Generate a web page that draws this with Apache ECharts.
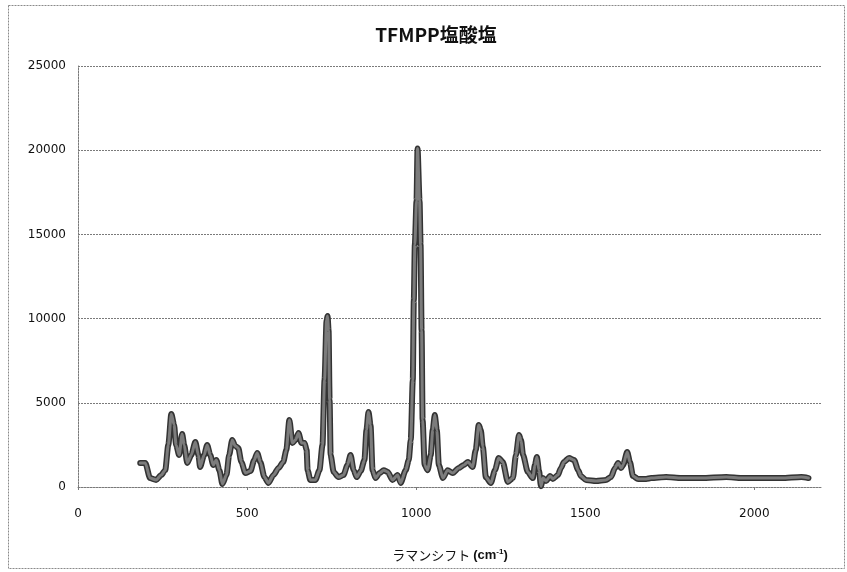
<!DOCTYPE html>
<html>
<head>
<meta charset="utf-8">
<script src="https://cdn.jsdelivr.net/npm/echarts@6/dist/echarts.min.js"></script>
<style>
  html, body { margin: 0; padding: 0; background: #fff; }
  #chart { width: 847px; height: 572px; }
</style>
</head>
<body>
<div id="chart"></div>
<script>
// ラマンシフト (cm-1)
var ramanShift = [184, 199, 213, 231, 246, 258, 267, 276, 284, 290, 299, 308, 314, 323, 335, 347, 356, 361, 373, 382,
    391, 400, 409, 418, 427, 439, 447, 456, 465, 474, 483, 495, 510, 521, 530, 539, 551, 563, 578, 593,
    607, 616, 625, 634, 643, 652, 661, 670, 676, 679, 687, 702, 714, 723, 729, 735, 738, 741, 744, 747,
    756, 770, 785, 797, 806, 815, 824, 836, 847, 853, 859, 865, 871, 880, 892, 904, 916, 930, 945, 954,
    969, 978, 984, 990, 993, 996, 1001, 1004, 1010, 1013, 1016, 1019, 1025, 1034, 1043, 1049, 1055, 1061, 1067, 1079,
    1093, 1108, 1126, 1141, 1153, 1167, 1176, 1185, 1191, 1197, 1206, 1221, 1233, 1244, 1256, 1271, 1286, 1295, 1304, 1310,
    1316, 1330, 1345, 1351, 1357, 1363, 1369, 1375, 1384, 1396, 1404, 1419, 1428, 1437, 1452, 1467, 1479, 1487, 1502, 1532,
    1561, 1576, 1588, 1597, 1606, 1612, 1624, 1632, 1641, 1656, 1680, 1695, 1739, 1784, 1843, 1917, 1962, 2021, 2080, 2139,
    2160];

// 強度
var intensity = [1430, 1430, 530, 420, 710, 1000, 2500, 4340, 3700, 2500, 1900, 3150, 2500, 1430, 1900, 2670, 1900, 1190, 1900, 2500,
    1900, 1310, 1600, 1000, 180, 710, 1900, 2790, 2440, 2320, 1490, 830, 950, 1600, 2020, 1490, 600, 240, 710, 1130,
    1490, 2200, 3980, 2610, 2790, 3210, 2610, 2610, 2200, 1000, 420, 420, 1000, 2500, 6350, 9900, 10150, 9300, 5170, 1900,
    890, 590, 710, 1310, 1900, 1000, 590, 950, 1600, 3390, 4460, 3680, 1000, 530, 830, 1000, 890, 420, 710, 240,
    1000, 1600, 2790, 6350, 11100, 14400, 17000, 20100, 17000, 14400, 9300, 3980, 1310, 1000, 1900, 3390, 4280, 3390, 1310, 530,
    1000, 830, 1130, 1310, 1490, 1190, 2200, 3680, 3390, 2380, 590, 240, 1000, 1720, 1490, 300, 530, 1900, 3090, 2790,
    1900, 890, 530, 1310, 1780, 1000, 50, 530, 360, 650, 480, 710, 1130, 1490, 1720, 1600, 1000, 650, 420, 360,
    420, 590, 1130, 1430, 1130, 1310, 2080, 1490, 650, 480, 480, 530, 590, 530, 530, 590, 530, 530, 530, 590,
    530];

var xTicks = [0, 500, 1000, 1500, 2000];

var chartTitle = 'TFMPP塩酸塩';

var chart = echarts.init(document.getElementById('chart'), null, { renderer: 'canvas' });

var points = ramanShift.map(function(x, i) { return [x, intensity[i]]; });

var dotted = { color: '#7a7a7a', width: 1, type: [2, 1] };

var plain = function(v) { return String(v); };

var option = {
    backgroundColor: '#fff',
    animation: false,
    title: {
        text: chartTitle,
        left: 431,
        top: 20,
        textAlign: 'center',
        textStyle: {
            fontFamily: 'Noto Sans CJK JP',
            fontSize: 19,
            fontWeight: 'bold',
            color: '#111'
        }
    },
    graphic: [{
        type: 'rect',
        shape: { x: 8.5, y: 5.5, width: 836, height: 563 },
        style: { fill: 'none', stroke: '#8a8a8a', lineWidth: 1, lineDash: [2, 1] },
        silent: true
    }],
    grid: {
        left: 78,
        right: 25,
        top: 66,
        bottom: 85
    },
    xAxis: {
        type: 'value',
        min: 0,
        max: 2200,
        interval: 500,
        name: '{a|ラマンシフト }{b|(cm}{s|-1}{b|)}',
        nameLocation: 'middle',
        nameGap: 61,
        nameTextStyle: {
            rich: {
                a: { fontFamily: 'Noto Sans CJK JP', fontSize: 13, color: '#111' },
                b: { fontFamily: 'Liberation Sans', fontSize: 13, fontWeight: 'bold', color: '#111' },
                s: { fontFamily: 'Liberation Sans', fontSize: 8, fontWeight: 'bold', color: '#111', verticalAlign: 'top', padding: [0, 0, 6, 0] }
            }
        },
        axisLine: { show: true, lineStyle: dotted },
        axisTick: { show: true, length: 3, customValues: xTicks, lineStyle: { color: '#7a7a7a' } },
        axisLabel: {
            customValues: xTicks,
            formatter: plain,
            margin: 21,
            fontFamily: 'DejaVu Sans',
            fontSize: 12,
            color: '#111'
        },
        splitLine: { show: false }
    },
    yAxis: {
        type: 'value',
        min: 0,
        max: 25000,
        interval: 5000,
        axisLine: { show: true, lineStyle: dotted },
        axisTick: { show: false },
        axisLabel: {
            formatter: plain,
            margin: 12,
            fontFamily: 'DejaVu Sans',
            fontSize: 12,
            color: '#111'
        },
        splitLine: { show: true, lineStyle: dotted }
    },
    series: [{
        // 外側の濃い線
        type: 'line',
        data: points,
        showSymbol: false,
        smooth: 0.25,
        smoothMonotone: 'x',
        lineStyle: { color: '#333', width: 6, join: 'round', cap: 'round' },
        z: 2
    }, {
        // 内側の灰色
        type: 'line',
        data: points,
        showSymbol: false,
        smooth: 0.25,
        smoothMonotone: 'x',
        lineStyle: { color: '#7c7c7c', width: 3, join: 'round', cap: 'round' },
        z: 3
    }]
};

chart.setOption(option);

window.onresize = function() {
    chart.resize();
};
</script>
</body>
</html>
